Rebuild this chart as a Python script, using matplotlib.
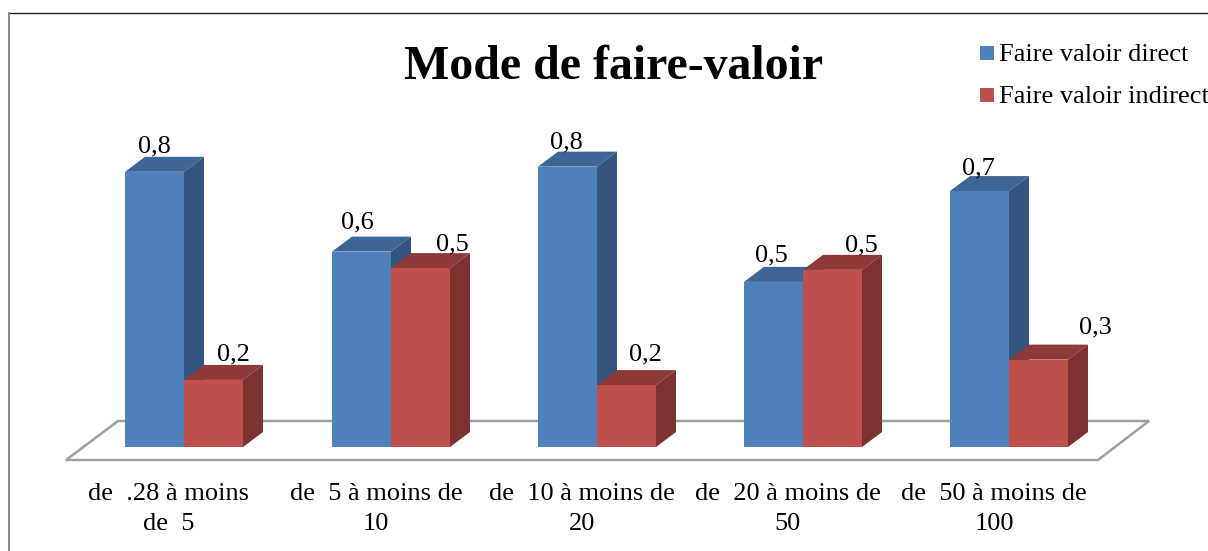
import matplotlib
matplotlib.use('Agg')
import matplotlib.pyplot as plt
from matplotlib.patches import Polygon, Rectangle

plt.rcParams['font.family'] = ['Liberation Serif', 'DejaVu Serif']

categories = ['de  .28 à moins\nde  5', 'de  5 à moins de\n10', 'de  10 à moins de\n20',
              'de  20 à moins de\n50', 'de  50 à moins de\n100']
direct = [0.80, 0.568, 0.815, 0.48, 0.744]
indirect = [0.195, 0.52, 0.18, 0.515, 0.254]
direct_labels = ['0,8', '0,6', '0,8', '0,5', '0,7']
indirect_labels = ['0,2', '0,5', '0,2', '0,5', '0,3']

# label offsets from the front top left corner of each bar, in px
direct_off = [(29, 25), (25, 29), (28, 24), (27, 26), (28, 23)]
indirect_off = [(49, 25), (61, 24), (48, 31), (58, 24), (86, 32)]

BLUE = ['#4f81bd', '#3d6696', '#34557f']
RED = ['#c0504d', '#8f3a3a', '#7d3130']

fig = plt.figure(figsize=(12.08, 5.51), dpi=100)

# border of the chart area, only top and left show
fig.add_artist(plt.Line2D([9 / 1208, 1], [1 - 12.5 / 551] * 2, color='#202020', lw=1.0))
fig.add_artist(plt.Line2D([9 / 1208] * 2, [0, 1 - 12.5 / 551], color='#808080', lw=1.3))

# axes in category units on x, value units on y
x0, x1 = 60, 1160
y_base, y_top = 447, 103
ax = fig.add_axes([x0 / 1208, 1 - y_base / 551, (x1 - x0) / 1208, (y_base - y_top) / 551])
ax.set_xlim(0, x1 - x0)
ax.set_ylim(0, 1)
ax.axis('off')

# size of one px in data units, for the depth offset
px_y = 1 / (y_base - y_top)
dx, dy = 20, 15 * px_y
width = 59

# floor
floor = Polygon([(6, -13 * px_y), (1038, -13 * px_y), (1089, 26 * px_y), (58, 26 * px_y)],
                closed=True, fc='white', ec='#a0a0a0', lw=1.8, clip_on=False, zorder=1)
ax.add_patch(floor)


def draw_bar(x, h, cols):
    ax.bar(x, h, width=width, align='edge', color=cols[0], zorder=3, clip_on=False)
    ax.add_patch(Polygon([(x, h), (x + width, h), (x + width + dx, h + dy), (x + dx, h + dy)],
                         fc=cols[1], ec='none', zorder=3, clip_on=False))
    ax.add_patch(Polygon([(x + width, 0), (x + width + dx, dy), (x + width + dx, h + dy), (x + width, h)],
                         fc=cols[2], ec='none', zorder=3, clip_on=False))


# left edge of the blue bar of each group
lefts = [65, 272, 478, 684, 890]
for i, left in enumerate(lefts):
    draw_bar(left, direct[i], BLUE)
    draw_bar(left + width, indirect[i], RED)
    ax.text(left + direct_off[i][0], direct[i] + direct_off[i][1] * px_y, direct_labels[i],
            ha='center', va='center', fontsize=19, zorder=5, clip_on=False)
    ax.text(left + width + indirect_off[i][0], indirect[i] + indirect_off[i][1] * px_y, indirect_labels[i],
            ha='center', va='center', fontsize=19, zorder=5, clip_on=False)
    ax.text(left + 44, -36 * px_y, categories[i], ha='center', va='top',
            fontsize=19, linespacing=1.5, clip_on=False)

fig.text(614 / 1208, 1 - 67 / 551, 'Mode de faire-valoir', ha='center', va='center', fontsize=34.5,
         fontweight='bold')

# legend
for yy, col, txt in [(53, BLUE[0], 'Faire valoir direct'), (95, RED[0], 'Faire valoir indirect')]:
    fig.add_artist(Rectangle((980 / 1208, 1 - (yy + 7) / 551), 14 / 1208, 14 / 551, fc=col, ec='none',
                             transform=fig.transFigure))
    fig.text(999 / 1208, 1 - (yy + 2) / 551, txt, ha='left', va='center', fontsize=19)

fig.savefig('out.png', dpi=100)
